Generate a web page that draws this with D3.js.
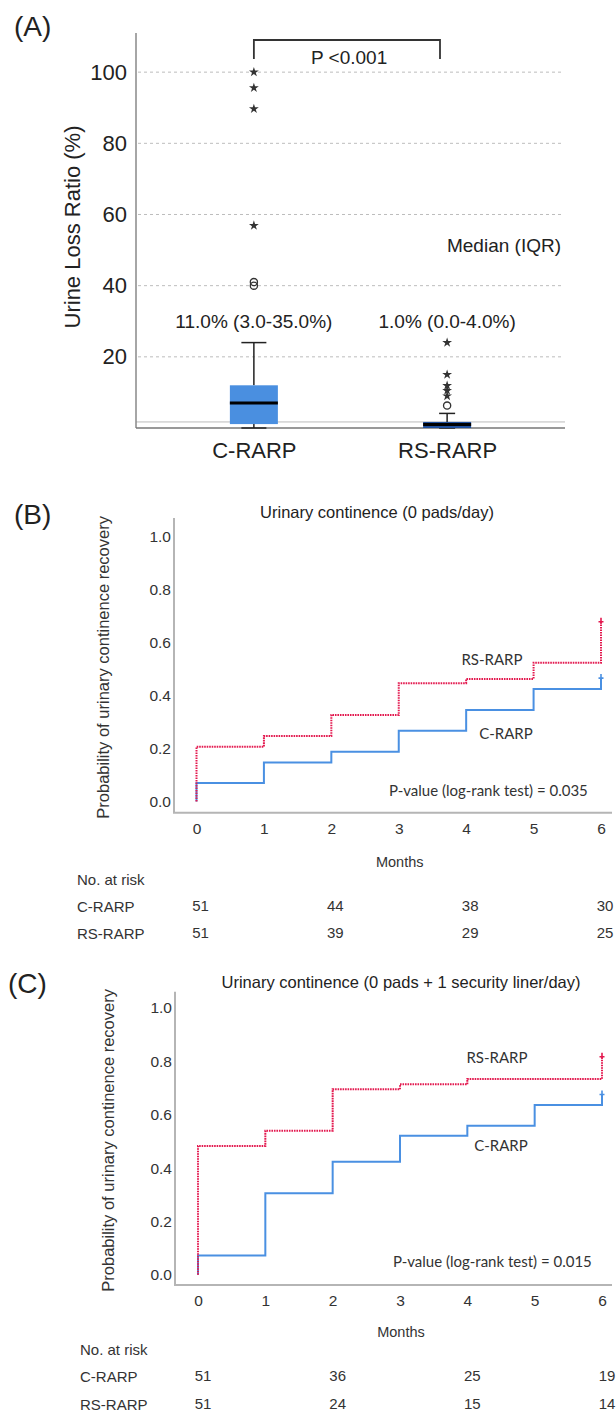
<!DOCTYPE html>
<html><head><meta charset="utf-8">
<script src="https://cdn.jsdelivr.net/npm/d3@7"></script>
<style>body{margin:0;background:#fff}svg{display:block}</style>
</head><body>
<svg id="c" width="616" height="1413"></svg>
<script>
// ---------- Panel A data ----------
const groupsA = ["C-RARP", "RS-RARP"];
const boxLow = [0, 0];
const boxQ1 = [1.1, 0];
const boxMedian = [7, 1];
const boxQ3 = [12, 1.7];
const boxHigh = [24, 4.1];
const starsC = [100, 95.6, 89.7, 56.9];
const starsRS = [24, 15, 11.9, 10.5, 9];
const circlesC = [40, 41];
const circlesRS = [6.3];
const medianIQRLabels = ["11.0% (3.0-35.0%)", "1.0% (0.0-4.0%)"];
const yTicksA = [20, 40, 60, 80, 100];
const refLineA = 1.7;

// ---------- Panel B / C data ----------
const months = [0, 1, 2, 3, 4, 5, 6];
const probTicks = [0, 0.2, 0.4, 0.6, 0.8, 1.0];
const kmB_C  = [0.070, 0.147, 0.188, 0.267, 0.346, 0.425, 0.466];
const kmB_RS = [0.207, 0.247, 0.327, 0.447, 0.463, 0.524, 0.679];
const kmC_C  = [0.072, 0.306, 0.424, 0.521, 0.559, 0.636, 0.676];
const kmC_RS = [0.483, 0.540, 0.695, 0.714, 0.734, 0.734, 0.817];
const riskMonths = [0, 2, 4, 6];
const riskB_C  = [51, 44, 38, 30];
const riskB_RS = [51, 39, 29, 25];
const riskC_C  = [51, 36, 25, 19];
const riskC_RS = [51, 24, 15, 14];

const svg = d3.select("#c");
const ARIAL = "'Liberation Sans', Arial, sans-serif";
const CAL = "Lato, 'Open Sans', sans-serif";
const RED = "#e3194f", BLUE = "#4a90e2";

// ================= Panel A =================
(function () {
  const L = 136, R = 565, T = 33, B = 428;
  const y = d3.scaleLinear().domain([0, 111]).range([B, T]);
  const x = d3.scalePoint().domain(groupsA).range([L, R]).padding(0.61);
  const g = svg.append("g");

  g.append("text").attr("x", 14).attr("y", 36).attr("font-family", ARIAL)
    .attr("font-size", 28).attr("fill", "#222").text("(A)");

  // grid
  g.selectAll(".grid").data(yTicksA).join("line")
    .attr("x1", L + 2).attr("x2", R - 2).attr("y1", d => y(d)).attr("y2", d => y(d))
    .attr("stroke", "#bdbdbd").attr("stroke-width", 1).attr("stroke-dasharray", "3,3");
  // reference line
  g.append("line").attr("x1", L).attr("x2", R).attr("y1", y(refLineA)).attr("y2", y(refLineA))
    .attr("stroke", "#bbb").attr("stroke-width", 1);

  // y axis
  const ya = g.append("g").attr("transform", `translate(${L},0)`)
    .call(d3.axisLeft(y).tickValues(yTicksA).tickSize(0).tickPadding(9));
  ya.select(".domain").remove();
  ya.selectAll("text").attr("font-family", ARIAL).attr("font-size", 22).attr("fill", "#222");
  g.append("line").attr("x1", L).attr("x2", L).attr("y1", T).attr("y2", B)
    .attr("stroke", "#888").attr("stroke-width", 1.5);
  g.append("line").attr("x1", L).attr("x2", R).attr("y1", B).attr("y2", B)
    .attr("stroke", "#777").attr("stroke-width", 1.5);

  // x axis labels
  const xa = g.append("g").attr("transform", `translate(0,${B})`)
    .call(d3.axisBottom(x).tickSize(0).tickPadding(14));
  xa.select(".domain").remove();
  xa.selectAll("text").attr("font-family", ARIAL).attr("font-size", 22).attr("fill", "#222");

  // y label
  g.append("text").attr("transform", `translate(72,${(122 + 332) / 2}) rotate(-90)`)
    .attr("text-anchor", "middle").attr("dominant-baseline", "central")
    .attr("font-family", ARIAL).attr("font-size", 22).attr("fill", "#222")
    .text("Urine Loss Ratio (%)");

  const boxW = 48, capW = [25, 16];
  const fills = ["#4a8fe0", "#1f4f9c"];
  groupsA.forEach((grp, i) => {
    const cx = x(grp);
    // whiskers
    g.append("line").attr("x1", cx).attr("x2", cx).attr("y1", y(boxHigh[i])).attr("y2", y(boxQ3[i]))
      .attr("stroke", "#222").attr("stroke-width", 1.5);
    g.append("line").attr("x1", cx).attr("x2", cx).attr("y1", y(boxLow[i])).attr("y2", y(boxQ1[i]))
      .attr("stroke", "#222").attr("stroke-width", 1.5);
    [boxHigh[i], boxLow[i]].forEach(v => {
      g.append("line").attr("x1", cx - capW[i] / 2).attr("x2", cx + capW[i] / 2)
        .attr("y1", y(v)).attr("y2", y(v)).attr("stroke", "#222").attr("stroke-width", 1.5);
    });
    g.append("rect").attr("x", cx - boxW / 2).attr("width", boxW)
      .attr("y", y(boxQ3[i])).attr("height", Math.max(y(boxQ1[i]) - y(boxQ3[i]), 1))
      .attr("fill", fills[i]);
    g.append("line").attr("x1", cx - boxW / 2).attr("x2", cx + boxW / 2)
      .attr("y1", y(boxMedian[i])).attr("y2", y(boxMedian[i]))
      .attr("stroke", "#000").attr("stroke-width", 3);
    g.append("text").attr("x", cx).attr("y", 321).attr("text-anchor", "middle")
      .attr("dominant-baseline", "central").attr("font-family", ARIAL).attr("font-size", 19)
      .attr("fill", "#222").text(medianIQRLabels[i]);
  });

  const star = d3.symbol().type(d3.symbolStar).size(30);
  const stars = [[groupsA[0], starsC], [groupsA[1], starsRS]];
  stars.forEach(([grp, vals]) => {
    g.selectAll(null).data(vals).join("path").attr("d", star)
      .attr("transform", d => `translate(${x(grp)},${y(d)})`).attr("fill", "#333");
  });
  const circs = [[groupsA[0], circlesC], [groupsA[1], circlesRS]];
  circs.forEach(([grp, vals]) => {
    g.selectAll(null).data(vals).join("circle").attr("cx", x(grp)).attr("cy", d => y(d))
      .attr("r", 3.6).attr("fill", "none").attr("stroke", "#333").attr("stroke-width", 1.3);
  });

  g.append("text").attr("x", 530 + 31).attr("y", 245).attr("text-anchor", "end")
    .attr("dominant-baseline", "central").attr("font-family", ARIAL).attr("font-size", 19)
    .attr("fill", "#222").text("Median (IQR)");

  // significance bracket
  const bx1 = x(groupsA[0]), bx2 = 440;
  g.append("path").attr("d", `M${bx1},59V40H${bx2}V59`).attr("fill", "none")
    .attr("stroke", "#333").attr("stroke-width", 1.8);
  g.append("text").attr("x", 311).attr("y", 57).attr("dominant-baseline", "central")
    .attr("font-family", ARIAL).attr("font-size", 19).attr("fill", "#222").text("P <0.001");
})();

// ================= KM panels =================
function drawKM(o) {
  const g = svg.append("g");
  const x = d3.scaleLinear().domain([0, 6]).range([o.x0, o.x6]);
  const y = d3.scaleLinear().domain([0, 1]).range([o.y0, o.y1]);

  g.append("text").attr("x", o.letterX).attr("y", o.letterY).attr("font-family", ARIAL)
    .attr("font-size", 28).attr("fill", "#222").text(o.letter);
  g.append("text").attr("x", o.titleX).attr("y", o.titleY).attr("text-anchor", "middle")
    .attr("dominant-baseline", "central").attr("font-family", ARIAL).attr("font-size", 16.5)
    .attr("fill", "#222").text(o.title);

  // axes lines
  g.append("line").attr("x1", o.L).attr("x2", o.L).attr("y1", o.T).attr("y2", o.B)
    .attr("stroke", "#b5b5b5").attr("stroke-width", 2);
  g.append("line").attr("x1", o.L - 1).attr("x2", o.R).attr("y1", o.B).attr("y2", o.B)
    .attr("stroke", "#b5b5b5").attr("stroke-width", 2);

  const ya = g.append("g").attr("transform", `translate(${o.L},0)`)
    .call(d3.axisLeft(y).tickValues(probTicks).tickFormat(d3.format(".1f")).tickSize(0).tickPadding(3));
  ya.select(".domain").remove();
  ya.selectAll("text").attr("font-family", ARIAL).attr("font-size", 15.5).attr("fill", "#333");

  const xa = g.append("g").attr("transform", `translate(0,${o.B})`)
    .call(d3.axisBottom(x).tickValues(months).tickFormat(d3.format("d")).tickSize(0).tickPadding(10));
  xa.select(".domain").remove();
  xa.selectAll("text").attr("font-family", ARIAL).attr("font-size", 15.5).attr("fill", "#333");

  g.append("text").attr("transform", `translate(${o.ylabX},${(o.T + o.B) / 2 + 2}) rotate(-90)`)
    .attr("text-anchor", "middle").attr("dominant-baseline", "central")
    .attr("font-family", ARIAL).attr("font-size", 16.5).attr("fill", "#333")
    .text("Probability of urinary continence recovery");

  g.append("text").attr("x", (o.x0 + o.x6) / 2 + 1).attr("y", o.monthsY).attr("text-anchor", "middle")
    .attr("dominant-baseline", "central").attr("font-family", ARIAL).attr("font-size", 14.5)
    .attr("fill", "#333").text("Months");

  const line = d3.line().x(d => x(d[0])).y(d => y(d[1])).curve(d3.curveStepAfter);
  const pts = vals => [[0, 0]].concat(months.map((m, i) => [m, vals[i]]));

  g.append("path").attr("d", line(pts(o.cVals))).attr("fill", "none")
    .attr("stroke", BLUE).attr("stroke-width", 2);
  g.append("path").attr("d", line(pts(o.rsVals))).attr("fill", "none")
    .attr("stroke", RED).attr("stroke-width", 2).attr("stroke-dasharray", "1.6,0.9");

  [[o.cVals, BLUE], [o.rsVals, RED]].forEach(([vals, col]) => {
    const cx = x(6), cy = y(vals[6]);
    g.append("path").attr("d", `M${cx - 2.5},${cy}H${cx + 2.5}M${cx},${cy - 4}V${cy + 2}`)
      .attr("stroke", col).attr("stroke-width", 1.6).attr("fill", "none");
  });

  const ann = (t, px, py, anchor) => g.append("text").attr("x", px).attr("y", py)
    .attr("text-anchor", anchor).attr("dominant-baseline", "central")
    .attr("font-family", CAL).attr("font-size", 15).attr("fill", "#333").text(t);
  ann("RS-RARP", o.rsLab[0], o.rsLab[1], "middle");
  ann("C-RARP", o.cLab[0], o.cLab[1], "middle");
  ann(o.pText, o.pPos[0], o.pPos[1], "start");

  // risk table
  const rt = (t, px, py, anchor) => g.append("text").attr("x", px).attr("y", py)
    .attr("text-anchor", anchor).attr("dominant-baseline", "central")
    .attr("font-family", ARIAL).attr("font-size", 15).attr("fill", "#333").text(t);
  rt("No. at risk", o.tabX, o.riskY[0], "start");
  rt("C-RARP", o.tabX, o.riskY[1], "start");
  rt("RS-RARP", o.tabX, o.riskY[2], "start");
  riskMonths.forEach((m, i) => {
    rt(o.riskC[i], x(m) + o.numDx, o.riskY[1] - 1, "middle");
    rt(o.riskRS[i], x(m) + o.numDx, o.riskY[2] - 1, "middle");
  });
}

drawKM({
  letter: "(B)", letterX: 14, letterY: 524,
  title: "Urinary continence (0 pads/day)", titleX: 377, titleY: 512,
  L: 174, R: 612, T: 518, B: 812.7, x0: 196.5, x6: 601, y0: 801.5, y1: 536.7,
  ylabX: 103, monthsY: 862,
  cVals: kmB_C, rsVals: kmB_RS,
  rsLab: [492, 659], cLab: [506, 733],
  pText: "P-value (log-rank test) = 0.035", pPos: [389, 790],
  tabX: 77, riskY: [879, 906, 933.5], riskC: riskB_C, riskRS: riskB_RS, numDx: 4
});

drawKM({
  letter: "(C)", letterX: 8, letterY: 993,
  title: "Urinary continence (0 pads + 1 security liner/day)", titleX: 401, titleY: 982,
  L: 175, R: 612, T: 991.7, B: 1285, x0: 198, x6: 602, y0: 1274.8, y1: 1008,
  ylabX: 108, monthsY: 1332,
  cVals: kmC_C, rsVals: kmC_RS,
  rsLab: [497, 1057], cLab: [501, 1145],
  pText: "P-value (log-rank test) = 0.015", pPos: [393, 1261],
  tabX: 80, riskY: [1349, 1376.5, 1404], riskC: riskC_C, riskRS: riskC_RS, numDx: 5
});
</script>
</body></html>
